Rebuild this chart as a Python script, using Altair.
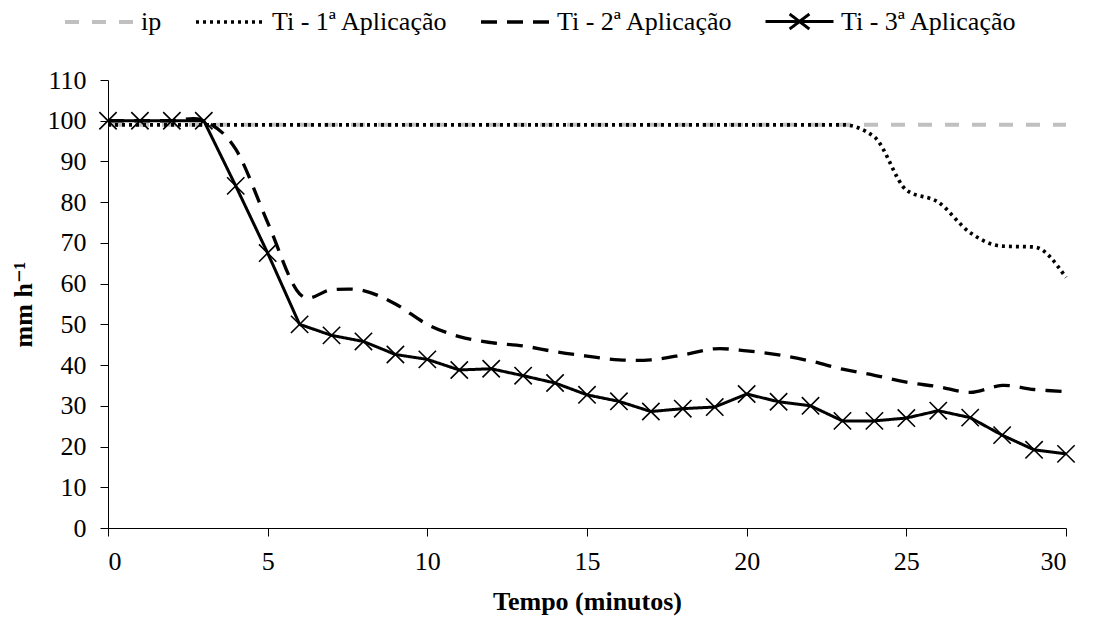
import json

import altair as alt
import pandas as pd

# Infiltração (mm h-1) ao longo do tempo de ensaio
minutes = list(range(31))
ip = [99, 99, 99, 99, 99, 99, 99, 99, 99, 99, 99, 99, 99, 99, 99, 99,
      99, 99, 99, 99, 99, 99, 99, 99, 99, 99, 99, 99, 99, 99, 99]
ti_1 = [99, 99, 99, 99, 99, 99, 99, 99, 99, 99, 99, 99, 99, 99, 99, 99,
        99, 99, 99, 99, 99, 99, 99, 99, 96, 83, 80, 72.5, 69.2, 69, 61.5]
ti_2 = [100, 100, 100, 100, 93, 75, 57.5, 58.5, 58.3, 55, 50, 47, 45.5,
        44.7, 43.3, 42.2, 41.3, 41.3, 42.5, 44, 43.5, 42.5, 41, 39, 37.5,
        35.8, 34.7, 33.3, 35, 34, 33.5]
ti_3 = [100, 100, 100, 100, 84, 67.5, 50, 47.3, 45.8, 42.6, 41.4, 38.8,
        39.1, 37.4, 35.6, 32.7, 31.1, 28.6, 29.3, 29.7, 32.9, 31, 30, 26.3,
        26.3, 27, 28.8, 27.1, 22.8, 19.2, 18.2]

series_names = ["ip", "Ti - 1ª Aplicação", "Ti - 2ª Aplicação", "Ti - 3ª Aplicação"]
series_values = [ip, ti_1, ti_2, ti_3]

x_ticks = [0, 5, 10, 15, 20, 25, 30]
y_ticks = [0, 10, 20, 30, 40, 50, 60, 70, 80, 90, 100, 110]

# line styles per series
series_colors = ["#c0c0c0", "#000000", "#000000", "#000000"]
series_dash = [[14, 13], [3, 4], [16, 10], [1, 0]]
series_width = [4, 3, 4, 2]
series_curve = ["linear", "monotone", "cardinal", "linear"]
x_marker = "M-1,-1L1,1M-1,1L1,-1"
legend_shapes = ["stroke", "stroke", "stroke",
                 "M-1,0H1M-0.29,-0.22L0.29,0.22M-0.29,0.22L0.29,-0.22"]

rows = []
for name, vals in zip(series_names, series_values):
    for m, v in zip(minutes, vals):
        rows.append({"minuto": m, "valor": v, "serie": name})
df = pd.DataFrame(rows)

FONT = "Liberation Serif, Times New Roman, Times, DejaVu Serif, serif"


def per_entry(options):
    """Vega expression that picks one option per legend entry."""
    expr = json.dumps(options[-1], ensure_ascii=False)
    for name, opt in reversed(list(zip(series_names[:-1], options[:-1]))):
        expr = (f"datum.value === {json.dumps(name, ensure_ascii=False)} ? "
                f"{json.dumps(opt, ensure_ascii=False)} : ({expr})")
    return {"expr": expr}


x_enc = alt.X(
    "minuto:Q",
    scale=alt.Scale(domain=[0, 30], nice=False, zero=False),
    axis=alt.Axis(values=x_ticks, title="Tempo (minutos)", tickSize=8,
                  labelPadding=12, titlePadding=14, format="d"),
)
y_enc = alt.Y(
    "valor:Q",
    scale=alt.Scale(domain=[0, 110], nice=False),
    axis=alt.Axis(values=y_ticks, title="mm h⁻¹", tickSize=8,
                  labelPadding=14, titlePadding=11, format="d"),
)
color_enc = alt.Color(
    "serie:N",
    scale=alt.Scale(domain=series_names, range=series_colors),
    legend=alt.Legend(
        title=None,
        orient="none",
        direction="horizontal",
        legendX=-45,
        legendY=-94,
        symbolSize=68 * 68,
        symbolType=per_entry(legend_shapes),
        symbolDash=per_entry(series_dash),
        symbolStrokeWidth=per_entry(series_width),
        labelFont=FONT,
        labelFontSize=26,
        labelColor="black",
        labelOffset=6,
        columnPadding=26,
        labelLimit=400,
    ),
)
dash_enc = alt.StrokeDash(
    "serie:N", scale=alt.Scale(domain=series_names, range=series_dash), legend=None
)
width_enc = alt.StrokeWidth(
    "serie:N", scale=alt.Scale(domain=series_names, range=series_width), legend=None
)


def line_layer(name, interpolate):
    return (
        alt.Chart()
        .mark_line(interpolate=interpolate)
        .encode(x=x_enc, y=y_enc, color=color_enc, strokeDash=dash_enc,
                strokeWidth=width_enc)
        .transform_filter(alt.datum.serie == name)
    )


layers = [line_layer(n, c) for n, c in zip(series_names, series_curve)]
layers.append(
    alt.Chart()
    .mark_point(shape=x_marker, filled=False, size=300, strokeWidth=1.6,
                color="black", opacity=1)
    .encode(x=x_enc, y=y_enc)
    .transform_filter(alt.datum.serie == series_names[3])
)

chart = (
    alt.layer(*layers, data=df)
    .properties(
        width=958,
        height=448,
        autosize=alt.AutoSizeParams(type="none"),
        padding={"left": 108, "top": 80, "right": 27, "bottom": 98},
        background="white",
    )
    .configure_view(stroke=None)
    .configure_axis(
        grid=False,
        domainColor="black",
        domainWidth=1,
        tickColor="black",
        tickWidth=1,
        labelColor="black",
        labelFont=FONT,
        labelFontSize=26,
        titleColor="black",
        titleFont=FONT,
        titleFontSize=26,
        titleFontWeight="bold",
    )
)

chart.save("out.html", embed_options={"renderer": "svg", "actions": False})
